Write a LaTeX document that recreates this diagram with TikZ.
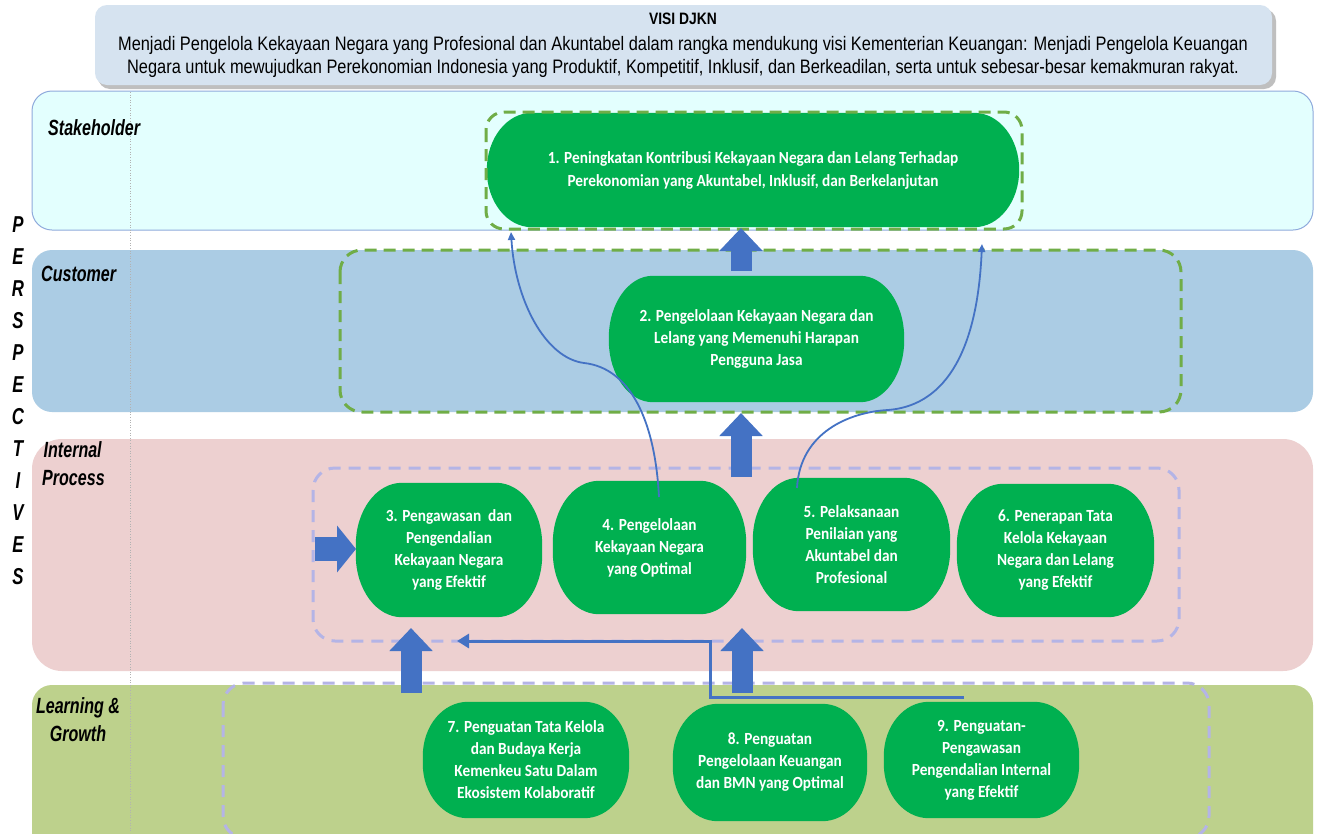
\documentclass[tikz,border=0pt]{standalone}
\usepackage{fontspec}
\setmainfont{Liberation Sans}
\newfontfamily\bannerfam[FakeStretch=0.84]{Liberation Sans}
\newfontfamily\condfam[FakeStretch=0.73]{Liberation Sans}
\newfontfamily\carlitofam[FakeStretch=0.9]{Carlito}
\usetikzlibrary{arrows.meta}
\pgfdeclarelayer{bands}
\pgfdeclarelayer{ovals}
\pgfsetlayers{bands,ovals,main}
\definecolor{bannerfill}{HTML}{D6E3F0}
\definecolor{stakefill}{HTML}{E3FFFE}
\definecolor{stakeline}{HTML}{8FAADC}
\definecolor{custfill}{HTML}{ABCCE4}
\definecolor{intfill}{HTML}{EDD0D0}
\definecolor{lgfill}{HTML}{BDD18C}
\definecolor{objgreen}{HTML}{00B050}
\definecolor{arrblue}{HTML}{4472C4}
\definecolor{dashgreen}{HTML}{70AD47}
\definecolor{dashlav}{HTML}{B4B4E6}
\newcommand\myobjfont{\carlitofam\bfseries\fontsize{17}{22}\selectfont}
\newcommand\mylblfont{\condfam\bfseries\itshape\fontsize{22}{28}\selectfont}
\newcommand\mybannerfont{\bannerfam\fontsize{19.5}{23}\selectfont}
\newcommand\ovalbg[3]{%
  \begin{pgfonlayer}{ovals}
  \fill[objgreen] ([xshift=#2]#1.north west) -- ([xshift=-#2]#1.north east)
    arc[start angle=90,end angle=0,x radius=#2,y radius=#3]
    -- ([yshift=#3]#1.south east)
    arc[start angle=0,end angle=-90,x radius=#2,y radius=#3]
    -- ([xshift=#2]#1.south west)
    arc[start angle=270,end angle=180,x radius=#2,y radius=#3]
    -- ([yshift=-#3]#1.north west)
    arc[start angle=180,end angle=90,x radius=#2,y radius=#3] -- cycle;
  \end{pgfonlayer}}
\begin{document}
\begin{tikzpicture}[x=1pt,y=-1pt,
  obj/.style={text=white, font=\myobjfont, align=center, inner sep=0pt},
  bigarrow/.style={arrblue, line width=21pt, -{Triangle[width=42pt,length=23pt]}},
  sidearrow/.style={arrblue, line width=24pt, -{Triangle[width=46pt,length=19pt]}},
  gdash/.style={draw=dashgreen, line width=3pt, dash pattern=on 12pt off 7pt, rounded corners=18pt},
  ldash/.style={draw=dashlav, line width=3pt, dash pattern=on 12pt off 8pt, rounded corners=22pt},
  lbl/.style={font=\mylblfont, inner sep=0pt},
  curvearrow/.style={arrblue, line width=1.8pt, -{Triangle[length=8pt,width=7pt]}},
  elbowarrow/.style={arrblue, line width=3pt, -{Triangle[length=12pt,width=14pt]}},
]
\useasboundingbox (0,0) rectangle (1317,833);
\begin{pgfonlayer}{bands}
  \fill[white] (0,0) rectangle (1317,833);
  % banner
  \fill[gray!50, rounded corners=12pt] (98,9) rectangle (1276,89);
  \fill[bannerfill, rounded corners=12pt] (95,5) rectangle (1272,85);
  % bands
  \filldraw[fill=stakefill, draw=stakeline, line width=1pt, rounded corners=20pt] (32,91) rectangle (1313,230);
  \fill[custfill, rounded corners=20pt] (32,250) rectangle (1313,412);
  \fill[intfill, rounded corners=30pt] (32,439) rectangle (1313,671);
  \fill[lgfill, rounded corners=20pt] (32,685) rectangle (1313,860);
  \draw[gray!60, line width=0.6pt, dotted] (130,92) -- (130,833);
\end{pgfonlayer}

% banner text
\node[font=\bannerfam\bfseries\fontsize{16.5}{18}\selectfont, inner sep=0pt] (title) at (683,19) {VISI DJKN};
\node[font=\mybannerfont, align=center, inner sep=0pt] (visi) at (683,57) {Menjadi Pengelola Kekayaan Negara yang Profesional dan Akuntabel dalam rangka mendukung visi Kementerian Keuangan: Menjadi Pengelola Keuangan\\Negara untuk mewujudkan Perekonomian Indonesia yang Produktif, Kompetitif, Inklusif, dan Berkeadilan, serta untuk sebesar-besar kemakmuran rakyat.};

% labels
\node[lbl, anchor=west] (lstake) at (48,128) {Stakeholder};
\node[lbl, anchor=west] (lcust) at (41,274) {Customer};
\node[lbl, anchor=west, align=left] (lint) at (42,464) {\hspace{1.5pt}Internal\\Process};
\node[lbl, align=center] (llg) at (78,720) {Learning \&\\Growth};
\node[lbl, align=center, font=\condfam\bfseries\itshape\fontsize{23}{32}\selectfont] (persp) at (18,401) {P\\E\\R\\S\\P\\E\\C\\T\\I\\V\\E\\S};

% objectives
\node[obj, minimum width=532pt, minimum height=114pt, font=\carlitofam\bfseries\fontsize{17}{23}\selectfont] (n1) at (753,170)
  {1. Peningkatan Kontribusi Kekayaan Negara dan Lelang Terhadap\\Perekonomian yang Akuntabel, Inklusif, dan Berkelanjutan};
\ovalbg{n1}{45pt}{57pt}
\node[obj, minimum width=295pt, minimum height=126pt] (n2) at (756.5,339)
  {2. Pengelolaan Kekayaan Negara dan\\Lelang yang Memenuhi Harapan\\Pengguna Jasa};
\ovalbg{n2}{44pt}{62pt}
\node[obj, minimum width=186pt, minimum height=134pt] (n3) at (449,550)
  {3. Pengawasan\ \ dan\\Pengendalian\\Kekayaan Negara\\yang Efektif};
\ovalbg{n3}{46pt}{62pt}
\node[obj, minimum width=193pt, minimum height=133pt] (n4) at (649.5,547.5)
  {4. Pengelolaan\\Kekayaan Negara\\yang Optimal};
\ovalbg{n4}{46pt}{62pt}
\node[obj, minimum width=197pt, minimum height=133pt] (n5) at (851.5,544.5)
  {5. Pelaksanaan\\Penilaian yang\\Akuntabel dan\\Profesional};
\ovalbg{n5}{46pt}{62pt}
\node[obj, minimum width=197pt, minimum height=133pt] (n6) at (1055.5,550.5)
  {6. Penerapan Tata\\Kelola Kekayaan\\Negara dan Lelang\\yang Efektif};
\ovalbg{n6}{46pt}{62pt}
\node[obj, minimum width=206pt, minimum height=116pt] (n7) at (526,760)
  {7. Penguatan Tata Kelola\\dan Budaya Kerja\\Kemenkeu Satu Dalam\\Ekosistem Kolaboratif};
\ovalbg{n7}{45pt}{54pt}
\node[obj, minimum width=194pt, minimum height=117pt] (n8) at (770,762.5)
  {8. Penguatan\\Pengelolaan Keuangan\\dan BMN yang Optimal};
\ovalbg{n8}{45pt}{54pt}
\node[obj, minimum width=195pt, minimum height=116pt] (n9) at (981.5,760)
  {9. Penguatan-\\Pengawasan\\Pengendalian Internal\\yang Efektif};
\ovalbg{n9}{45pt}{54pt}

% dashed group boxes
\draw[gdash] (486,112) rectangle (1022,229);
\draw[gdash, rounded corners=22pt] (340,250) rectangle (1181,412);
\draw[ldash] (313,468) rectangle (1179,641);
\draw[ldash] (223,683) rectangle (1209,838);

% big block arrows
\coordinate (a1s) at (741,271); \coordinate (a1e) at (741,228);
\coordinate (a2s) at (741,477); \coordinate (a2e) at (741,413);
\coordinate (a3s) at (411,693); \coordinate (a3e) at (411,628);
\coordinate (a4s) at (742,693); \coordinate (a4e) at (742,628);
\coordinate (a5s) at (315,549); \coordinate (a5e) at (356,549);
\draw[bigarrow] (a1s) -- (a1e);
\draw[bigarrow] (a2s) -- (a2e);
\draw[bigarrow] (a3s) -- (a3e);
\draw[bigarrow] (a4s) -- (a4e);
\draw[sidearrow] (a5s) -- (a5e);

% elbow connector from 9 back to 3
\coordinate (e1) at (964,697);
\coordinate (e2) at (710,697);
\coordinate (e3) at (457,641);
\draw[elbowarrow] (e1) -- (e2) |- (e3);

% curved connectors
\coordinate (c1s) at (659,497); \coordinate (c1e) at (511,232);
\coordinate (c2s) at (797,488); \coordinate (c2e) at (982,244);
\draw[curvearrow] (c1s) .. controls (655,420) and (630,368) .. (584,363) .. controls (545,358) and (515,300) .. (c1e);
\draw[curvearrow] (c2s) .. controls (800,432) and (850,412) .. (888,410) .. controls (940,406) and (977,360) .. (c2e);
\end{tikzpicture}
\end{document}
